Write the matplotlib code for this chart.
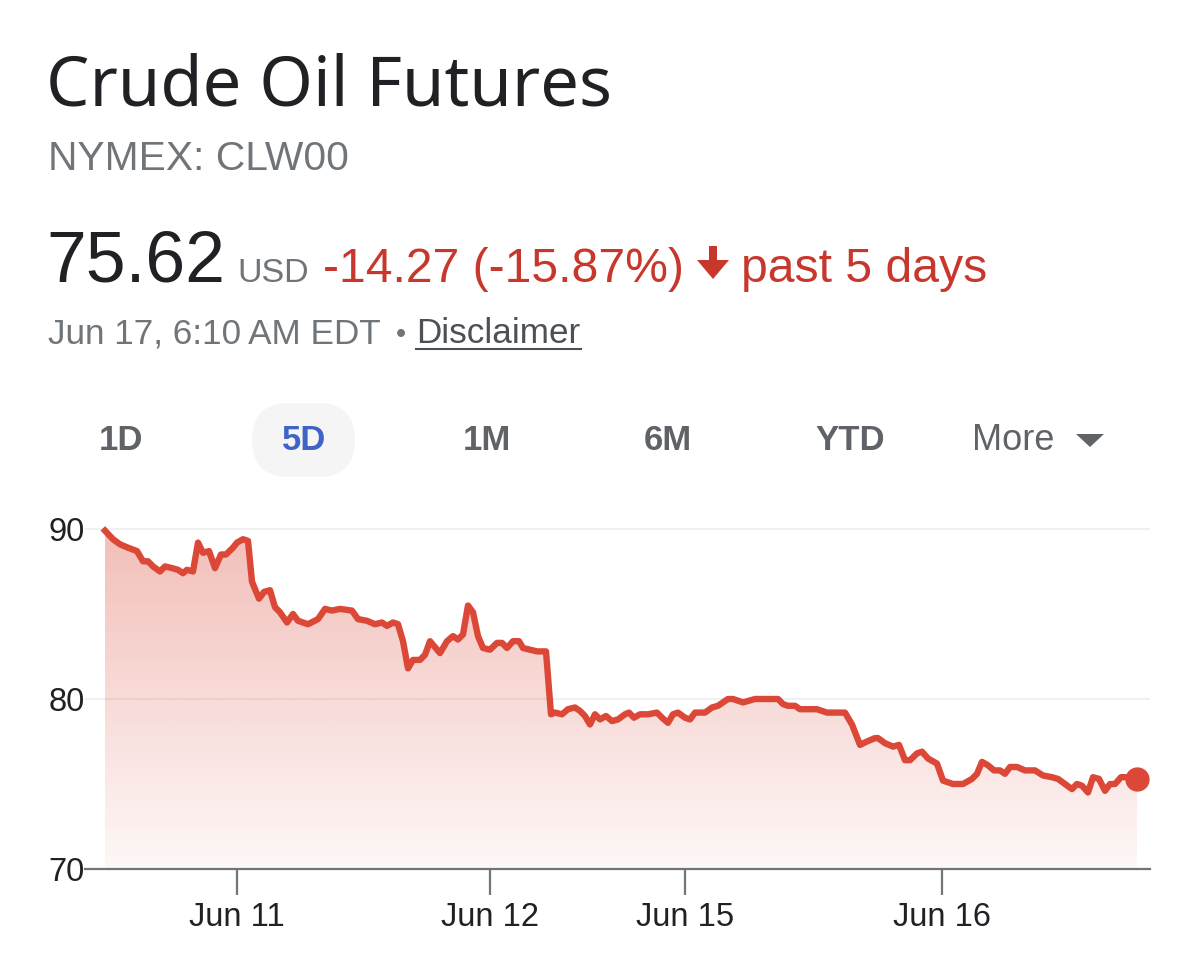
import numpy as np
import matplotlib
matplotlib.use("Agg")
import matplotlib.pyplot as plt
from matplotlib.patches import FancyBboxPatch, Polygon

# time position along the 5-day axis (arbitrary trading-time units) and price in USD
t = [0, 8, 15, 23, 32, 38, 43, 48, 55, 60, 67, 73, 78, 82, 88, 93, 98, 104, 110, 116,
     121, 128, 132, 138, 143, 147, 154, 159, 165, 170, 175, 182, 188, 193, 203, 213, 220,
     227, 235, 247, 253, 262, 270, 277, 282, 288, 293, 298, 303, 308, 315, 320, 325, 335,
     342, 348, 353, 358, 363, 368, 373, 378, 385, 392, 397, 402, 408, 414, 418, 425, 432,
     441, 446, 450, 457, 463, 470, 475, 480, 485, 490, 495, 501, 507, 513, 520, 524, 529,
     535, 543, 552, 557, 563, 568, 573, 580, 585, 590, 600, 607, 613, 623, 628, 638, 650,
     660, 673, 678, 683, 690, 695, 705, 712, 722, 732, 740, 747, 755, 762, 770, 773, 780,
     788, 794, 800, 805, 812, 817, 823, 832, 838, 848, 858, 867, 872, 877, 883, 889, 895,
     900, 905, 912, 920, 930, 938, 947, 953, 960, 967, 972, 977, 983, 988, 994, 1000,
     1005, 1010, 1016, 1022, 1032]
price = [89.9, 89.4, 89.1, 88.9, 88.7, 88.1, 88.1, 87.8, 87.5, 87.8, 87.7, 87.6, 87.4,
         87.6, 87.5, 89.2, 88.6, 88.7, 87.7, 88.5, 88.5, 88.9, 89.2, 89.4, 89.3, 86.9,
         85.9, 86.3, 86.4, 85.4, 85.1, 84.5, 85.0, 84.6, 84.4, 84.7, 85.3, 85.2, 85.3,
         85.2, 84.7, 84.6, 84.4, 84.5, 84.3, 84.5, 84.4, 83.4, 81.8, 82.3, 82.3, 82.6,
         83.4, 82.7, 83.4, 83.7, 83.5, 83.8, 85.5, 85.1, 83.7, 83.0, 82.9, 83.3, 83.3,
         83.0, 83.4, 83.4, 83.0, 82.9, 82.8, 82.8, 79.1, 79.2, 79.1, 79.4, 79.5, 79.3,
         79.0, 78.5, 79.1, 78.8, 79.0, 78.7, 78.8, 79.1, 79.2, 78.9, 79.1, 79.1, 79.2,
         78.9, 78.6, 79.1, 79.2, 78.9, 78.8, 79.2, 79.2, 79.5, 79.6, 80.0, 80.0, 79.8,
         80.0, 80.0, 80.0, 79.7, 79.6, 79.6, 79.4, 79.4, 79.4, 79.2, 79.2, 79.2, 78.5,
         77.3, 77.5, 77.7, 77.7, 77.4, 77.2, 77.3, 76.4, 76.4, 76.8, 76.9, 76.5, 76.2,
         75.2, 75.0, 75.0, 75.3, 75.6, 76.3, 76.1, 75.8, 75.8, 75.6, 76.0, 76.0, 75.8,
         75.8, 75.5, 75.4, 75.3, 75.0, 74.7, 75.0, 74.9, 74.5, 75.4, 75.3, 74.6, 75.0,
         75.0, 75.4, 75.4, 75.3]

tick_pos = [132, 385, 580, 837]
tick_labels = ["Jun 11", "Jun 12", "Jun 15", "Jun 16"]
y_ticks = [70, 80, 90]
tabs = ["1D", "5D", "1M", "6M", "YTD"]

RED = "#dc4838"
RED_TXT = "#c8372b"
DARK = "#202124"
GRAY = "#70757a"
HELV = ["Liberation Sans", "DejaVu Sans"]

W, H = 1200, 973
fig = plt.figure(figsize=(W / 100, H / 100), dpi=100)
fig.patch.set_facecolor("white")
inch = fig.dpi_scale_trans


def P(x, y):
    # pixel position (from top-left) -> inches for dpi_scale_trans
    return x / 100, (H - y) / 100


def ftext(x, y, s, **kw):
    kw.setdefault("family", HELV)
    return fig.text(*P(x, y), s, transform=inch, **kw)


# ---- header ----
ftext(46, 105, "Crude Oil Futures", fontsize=49.5, color=DARK, va="baseline",
      family=["Noto Sans", "DejaVu Sans"])
ftext(48, 170, "NYMEX: CLW00", fontsize=29.3, color=GRAY, va="baseline")
ftext(46, 282, "75.62", fontsize=51.5, color=DARK, va="baseline")
ftext(237, 282, "USD", fontsize=24.5, color=GRAY, va="baseline")
ftext(323, 282, "-14.27 (-15.87%)", fontsize=34.7, color=RED_TXT, va="baseline")
ftext(741, 282, "past 5 days", fontsize=34.7, color=RED_TXT, va="baseline")

# down arrow
arrow = [(709, 246), (717, 246), (717, 260), (729, 260), (713, 279), (697, 260), (709, 260)]
fig.patches.append(Polygon([P(*p) for p in arrow], closed=True, transform=inch,
                           facecolor=RED_TXT, edgecolor="none"))

ftext(48, 343, "Jun 17, 6:10\u2009AM EDT", fontsize=25.3, color=GRAY, va="baseline")
ftext(401, 343, "\u2022", fontsize=21, color=GRAY, ha="center", va="baseline")
ftext(416, 343, "Disclaimer", fontsize=25.3, color="#4d5156", va="baseline")
fig.add_artist(plt.Line2D([4.16, 5.81], [(H - 349) / 100] * 2, transform=inch,
                          color="#4d5156", lw=1.5))

# ---- range tabs ----
fig.patches.append(FancyBboxPatch(P(252, 477), 1.03, 0.74,
                                  boxstyle="round,pad=0,rounding_size=0.37",
                                  transform=inch, facecolor="#f5f5f6", edgecolor="none"))
tab_x = [121, 304, 487, 668, 850]
for name, x in zip(tabs, tab_x):
    ftext(x, 440, name, fontsize=25, color="#4063c8" if name == "5D" else "#5f6368",
          ha="center", va="center", fontweight="bold")
ftext(1013, 440, "More", fontsize=26, color="#5f6368", ha="center", va="center")
tri = [(1076, 434), (1104, 434), (1090, 447)]
fig.patches.append(Polygon([P(*p) for p in tri], closed=True, transform=inch,
                           facecolor="#5f6368", edgecolor="none"))

# ---- chart ----
left, right, bottom_px, top_px = 85, 1150, 869, 512
ax = fig.add_axes([left / W, 1 - bottom_px / H, (right - left) / W, (bottom_px - top_px) / H])
ax.set_xlim(-20, 1045)
ax.set_ylim(70, 91)

tt = np.array(t, dtype=float)
pp = np.array(price)

# vertical gradient under the line
grad = np.zeros((256, 1, 4))
grad[..., 0], grad[..., 1], grad[..., 2] = 220 / 255, 72 / 255, 56 / 255
grad[:, 0, 3] = np.linspace(0.37, 0.04, 256)
img = ax.imshow(grad, aspect="auto", extent=[tt[0], tt[-1], 70, 91], origin="upper",
                zorder=1, interpolation="bilinear")
fill = ax.fill_between(tt, pp, 70, color="none", lw=0)
clip = Polygon(fill.get_paths()[0].vertices, closed=True, transform=ax.transData,
               facecolor="none", edgecolor="none")
ax.add_patch(clip)
img.set_clip_path(clip)

ax.plot(tt, pp, color=RED, lw=4.6, solid_joinstyle="round", zorder=3)
ax.plot(tt[-1], pp[-1], "o", color=RED, ms=16.5, zorder=4)

for s in ["top", "right", "left"]:
    ax.spines[s].set_visible(False)
ax.spines["bottom"].set_color("#70757a")
ax.spines["bottom"].set_linewidth(1.6)

ax.set_yticks(y_ticks)
ax.set_yticklabels([str(v) for v in y_ticks], family=HELV, fontsize=23.5, color=DARK)
ax.tick_params(axis="y", length=0, pad=0)
ax.set_xticks(tick_pos)
ax.set_xticklabels(tick_labels, family=HELV, fontsize=23.5, color=DARK)
ax.tick_params(axis="x", length=19, width=1.6, color="#70757a", pad=5)
for v in y_ticks[1:]:
    ax.axhline(v, color="#eeeeef", lw=1.2, zorder=0)
ax.set_facecolor("none")

fig.savefig("out.png", dpi=100)
